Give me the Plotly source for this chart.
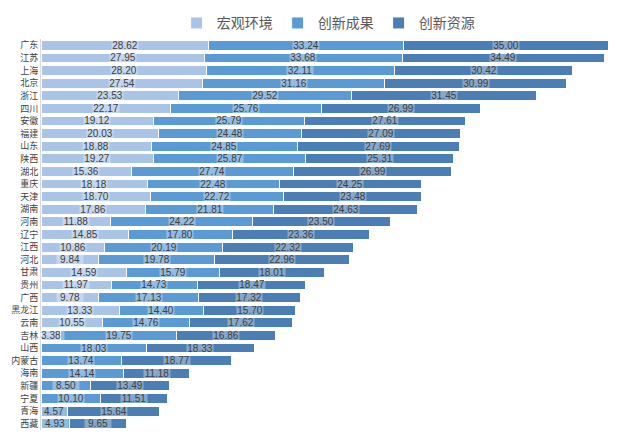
import plotly.graph_objects as go

# provinces, top to bottom
provinces = ['广东', '江苏', '上海', '北京', '浙江', '四川', '安徽', '福建', '山东', '陕西',
             '湖北', '重庆', '天津', '湖南', '河南', '辽宁', '江西', '河北', '甘肃', '贵州',
             '广西', '黑龙江', '云南', '吉林', '山西', '内蒙古', '海南', '新疆', '宁夏', '青海', '西藏']

macro_env = [28.62, 27.95, 28.20, 27.54, 23.53, 22.17, 19.12, 20.03, 18.88, 19.27,
             15.36, 18.18, 18.70, 17.86, 11.88, 14.85, 10.86, 9.84, 14.59, 11.97,
             9.78, 13.33, 10.55, 3.38, None, None, None, None, None, None, None]

innov_output = [33.24, 33.68, 32.11, 31.16, 29.52, 25.76, 25.79, 24.48, 24.85, 25.87,
                27.74, 22.48, 22.72, 21.81, 24.22, 17.80, 20.19, 19.78, 15.79, 14.73,
                17.13, 14.40, 14.76, 19.75, 18.03, 13.74, 14.14, 8.50, 10.10, 4.57, 4.93]

innov_resource = [35.00, 34.49, 30.42, 30.99, 31.45, 26.99, 27.61, 27.09, 27.69, 25.31,
                  26.99, 24.25, 23.48, 24.63, 23.50, 23.36, 22.32, 22.96, 18.01, 18.47,
                  17.32, 15.70, 17.62, 16.86, 18.33, 18.77, 11.18, 13.49, 11.51, 15.64, 9.65]

series = [
    ('宏观环境', macro_env, '#A9C4E6'),
    ('创新成果', innov_output, '#5B9BD5'),
    ('创新资源', innov_resource, '#4A7EB5'),
]

fig = go.Figure()
annotations = []
base = [0.0] * len(provinces)
for name, vals, color in series:
    fig.add_trace(go.Bar(
        y=provinces, x=vals, name=name, orientation='h',
        marker=dict(color=color, line=dict(color='white', width=1)),
    ))
    # centred data labels with a pale box behind them
    for i, v in enumerate(vals):
        if v is None:
            continue
        annotations.append(dict(
            x=base[i] + v / 2, y=provinces[i], xref='x', yref='y',
            text=f'{v:.2f}', showarrow=False,
            font=dict(size=10, color='#404040', family='Liberation Sans Narrow, Arial Narrow, sans-serif'),
            bgcolor='rgba(255,255,255,0.33)', borderpad=0, width=26, height=9,
        ))
        base[i] += v

# page body adds an 8px offset, so the figure is drawn slightly smaller
fig.update_layout(
    barmode='stack',
    bargap=0.22,
    width=632, height=428,
    margin=dict(l=33, r=13, t=31, b=6, autoexpand=False),
    plot_bgcolor='white', paper_bgcolor='white',
    font=dict(family='Noto Sans CJK SC, sans-serif', color='#404040'),
    legend=dict(orientation='h', x=0.49, xanchor='center', itemwidth=30,
                y=1.04, yanchor='middle', font=dict(size=14, color='#595959'),
                traceorder='normal'),
    annotations=annotations,
)
fig.update_xaxes(range=[0, 100], showticklabels=False, showgrid=False, zeroline=False, ticks='')
fig.update_yaxes(autorange='reversed', showgrid=False, showline=True, linecolor='#D9D9D9',
                 linewidth=1, ticks='', automargin=False, tickfont=dict(size=9, color='#404040'))

fig.write_html('out.html')
